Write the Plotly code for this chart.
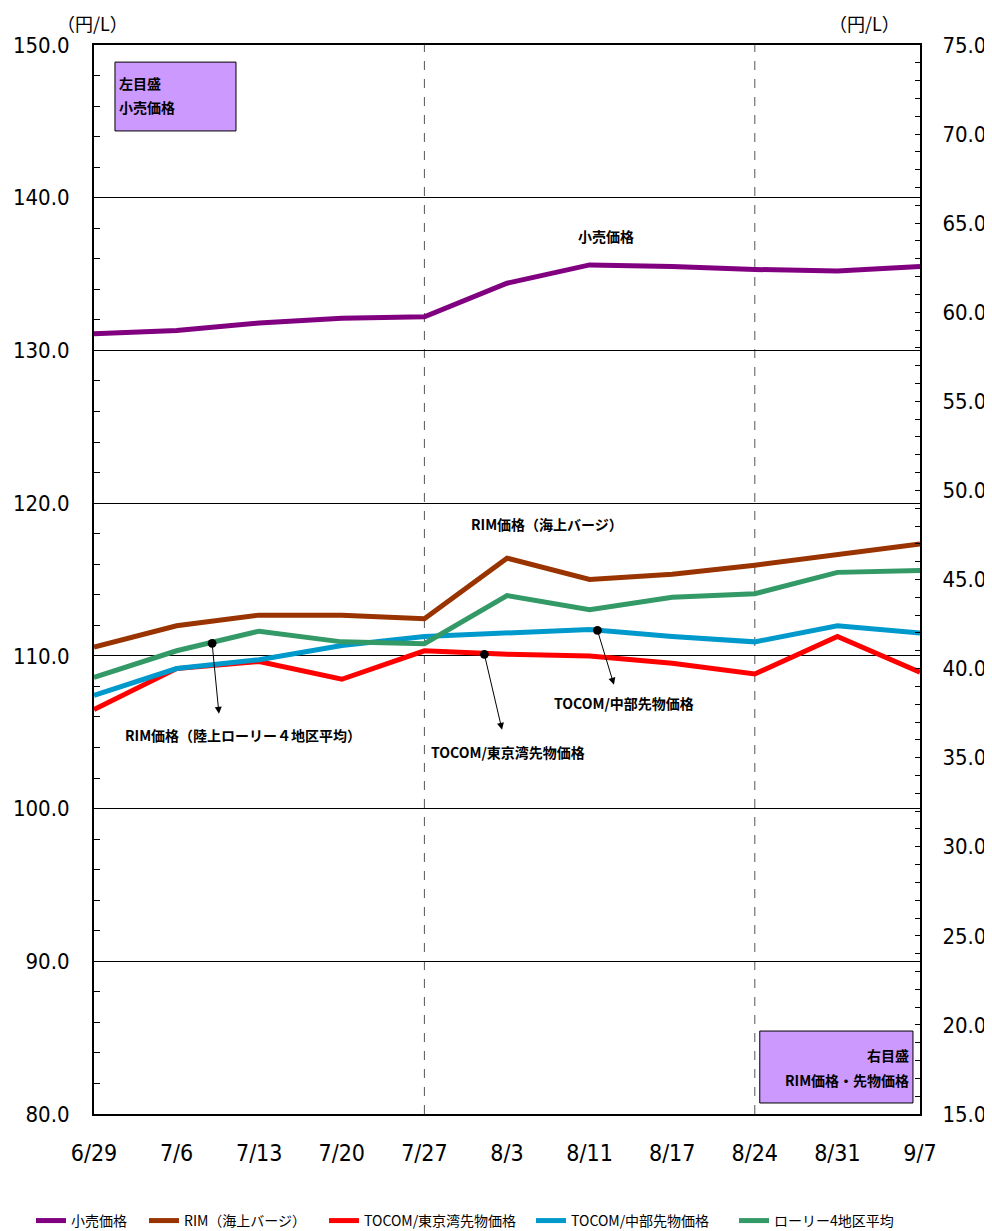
import plotly.graph_objects as go

dates = ["6/29", "7/6", "7/13", "7/20", "7/27", "8/3", "8/11", "8/17", "8/24", "8/31", "9/7"]
retail = [131.1, 131.3, 131.8, 132.1, 132.2, 134.4, 135.6, 135.5, 135.3, 135.2, 135.5]
rim_barge = [41.2, 42.4, 43.0, 43.0, 42.8, 46.2, 45.0, 45.3, 45.8, 46.4, 47.0]
tocom_tokyo = [37.7, 40.0, 40.4, 39.4, 41.0, 40.8, 40.7, 40.3, 39.7, 41.8, 39.8]
tocom_chubu = [38.5, 40.0, 40.5, 41.3, 41.8, 42.0, 42.2, 41.8, 41.5, 42.4, 42.0]
lorry4 = [39.5, 41.0, 42.1, 41.5, 41.4, 44.1, 43.3, 44.0, 44.2, 45.4, 45.5]

series_names = ["小売価格", "RIM（海上バージ）", "TOCOM/東京湾先物価格", "TOCOM/中部先物価格", "ローリー4地区平均"]
series_colors = ["#800080", "#993300", "#FF0000", "#0099CC", "#339966"]
series_vals = [retail, rim_barge, tocom_tokyo, tocom_chubu, lorry4]
series_axes = ["y", "y2", "y2", "y2", "y2"]

num_font = "DejaVu Sans Condensed, Liberation Sans Narrow, sans-serif"
jp_font = "Noto Sans CJK JP"

W, H = 984, 1223  # page body has an 8px margin

fig = go.Figure()
legend_ids = ["legend", "legend2", "legend3", "legend4", "legend5"]
for name, col, vals, ax, lg in zip(series_names, series_colors, series_vals, series_axes, legend_ids):
    fig.add_trace(go.Scatter(x=dates, y=vals, name=name, mode="lines", showlegend=True,
                             line=dict(color=col, width=5), yaxis=ax, legend=lg))

# dashed verticals
for xv in ["7/27", "8/24"]:
    fig.add_shape(type="line", xref="x", yref="paper", x0=xv, x1=xv, y0=0, y1=1,
                  line=dict(color="#555555", width=1, dash="dash"), layer="below")

# boxes
fig.add_shape(type="rect", xref="paper", yref="paper", x0=0.0254, x1=0.1719, y0=0.9196, y1=0.984,
              fillcolor="#CC99FF", line=dict(color="black", width=1))
fig.add_shape(type="rect", xref="paper", yref="paper", x0=0.806, x1=0.9915, y0=0.0103, y1=0.0776,
              fillcolor="#CC99FF", line=dict(color="black", width=1))

ann = []
bold = dict(family=jp_font, size=14, color="black")


def txt(x, y, t, xa="center"):
    ann.append(dict(xref="paper", yref="paper", x=x, y=y, text="<b>" + t + "</b>",
                    showarrow=False, xanchor=xa, yanchor="middle", font=bold))


txt(0.0275, 0.9645, "左目盛", "left")
txt(0.0275, 0.9420, "小売価格", "left")
txt(0.989, 0.0552, "右目盛", "right")
txt(0.989, 0.0318, "RIM価格・先物価格", "right")
txt(0.620, 0.8213, "小売価格")
txt(0.548, 0.5519, "RIM価格（海上バージ）")
txt(0.180, 0.3545, "RIM価格（陸上ローリー４地区平均）")
txt(0.501, 0.3386, "TOCOM/東京湾先物価格")
txt(0.642, 0.3845, "TOCOM/中部先物価格")

# arrows (head at x,y ; dot at the line)
for hx, hy, ax, ay in [(1.513, 37.46, -7, -72), (4.94, 36.56, -18, -77), (6.295, 39.09, -17, -56)]:
    ann.append(dict(xref="x", yref="y2", x=hx, y=hy, ax=ax, ay=ay, text="", showarrow=True,
                    arrowhead=2, arrowsize=1.4, arrowwidth=1, arrowcolor="black",
                    arrowside="end+start", startarrowhead=6, startarrowsize=2.2))
for x in [-0.002, 0.933]:
    ann.append(dict(xref="paper", yref="paper", x=x, y=1.0341, text="（円/L）", showarrow=False,
                    xanchor="center", yanchor="top", borderpad=0,
                    font=dict(family=jp_font, size=18, color="black")))

legend_x_page = [37, 150, 330, 537, 740]
layout_legends = {}
for lg, px in zip(legend_ids, legend_x_page):
    layout_legends[lg] = dict(orientation="h", xref="container", yref="container", visible=True,
                              x=(px - 6 - 8) / W, xanchor="left", y=0.0082, yanchor="middle",
                              font=dict(family=jp_font, size=14, color="black"), itemwidth=30,
                              bgcolor="rgba(0,0,0,0)")

fig.update_layout(
    width=W, height=H, showlegend=True,
    margin=dict(l=86, r=72, t=37, b=117, autoexpand=False),
    plot_bgcolor="white", paper_bgcolor="white",
    annotations=ann,
    xaxis=dict(type="category", range=[0, 10], showgrid=False, ticks="", automargin=False,
               showline=True, linecolor="black", linewidth=2, mirror=True,
               tickfont=dict(family=num_font, size=23, color="black"), ticklabelstandoff=17),
    yaxis=dict(range=[80, 150], dtick=10, tickformat=".1f", showgrid=True, gridcolor="black",
               gridwidth=1, showline=True, linecolor="black", linewidth=2, zeroline=False,
               ticks="inside", ticklen=6, tickcolor="black", automargin=False,
               minor=dict(dtick=2, ticks="inside", ticklen=6, tickcolor="black", showgrid=False),
               tickfont=dict(family=num_font, size=22, color="black"), ticklabelstandoff=18),
    yaxis2=dict(range=[15, 75], dtick=5, tickformat=".1f", overlaying="y", side="right",
                showgrid=False, showline=True, linecolor="black", linewidth=2, zeroline=False,
                ticks="inside", ticklen=5, tickcolor="black", automargin=False,
                minor=dict(dtick=1, ticks="inside", ticklen=5, tickcolor="black", showgrid=False),
                tickfont=dict(family=num_font, size=22, color="black"), ticklabelstandoff=16),
    **layout_legends,
)

fig.write_html("out.html")
